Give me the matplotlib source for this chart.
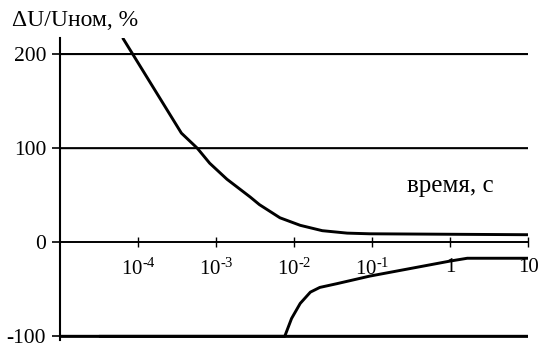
import matplotlib
matplotlib.use("Agg")
import matplotlib.pyplot as plt

plt.rcParams['font.family'] = ['Liberation Serif', 'DejaVu Serif']
plt.rcParams['mathtext.fontset'] = 'custom'
plt.rcParams['mathtext.rm'] = 'Liberation Serif'
plt.rcParams['mathtext.it'] = 'Liberation Serif'
plt.rcParams['axes.unicode_minus'] = False

# upper curve (overvoltage), % vs seconds
t_up = [6.5e-5, 8.7e-5, 3.6e-4, 5.75e-4, 8.3e-4, 1.38e-3, 2.75e-3, 3.6e-3, 6.6e-3,
        0.012, 0.023, 0.048, 0.093, 10]
du_up = [216, 199, 116, 100, 84, 67, 48, 40, 26, 18, 12.3, 9.7, 9, 8]

# lower curve (voltage dip)
t_low = [3.3e-5, 7.6e-3, 9.3e-3, 0.012, 0.0162, 0.0214, 0.0355, 0.0575, 0.093, 1.0, 1.66, 10]
du_low = [-100, -100, -81, -65, -53, -48, -44, -40, -36, -20, -17, -17]

hlines = [200, 100, -100]
xticks = [1e-4, 1e-3, 1e-2, 1e-1, 1, 10]
xticklabels = [r'$10^{\text{-}4}$', r'$10^{\text{-}3}$', r'$10^{\text{-}2}$', r'$10^{\text{-}1}$', '1', '10']
yticks = [-100, 0, 100, 200]

fig = plt.figure(figsize=(5.4, 3.46), dpi=100)
ax = fig.add_axes([0.111, 0.017, 0.867, 0.873])

for h in hlines:
    ax.plot([1e-5, 10], [h, h], color='black', lw=2.2 if h < 0 else 1.5,
            snap=False, zorder=3)
ax.plot(t_up, du_up, color='black', lw=2.1, zorder=4)
ax.plot(t_low, du_low, color='black', lw=2.1, zorder=4)

ax.set_xscale('log')
ax.set_xlim(1e-5, 10)
ax.set_ylim(-104, 217)

ax.spines['top'].set_visible(False)
ax.spines['right'].set_visible(False)
ax.spines['bottom'].set_position(('data', 0))
ax.spines['bottom'].set_linewidth(1.4)
ax.spines['left'].set_linewidth(1.5)

ax.set_xticks(xticks)
ax.set_xticklabels(xticklabels)
ax.xaxis.set_minor_locator(matplotlib.ticker.NullLocator())
ax.tick_params(axis='x', direction='inout', length=7, width=1, pad=8, labelsize=15)
ax.set_yticks(yticks)
ax.tick_params(axis='y', direction='out', length=6, width=1.2, pad=4, labelsize=15.5)

fig.text(0.022, 0.94, 'ΔU/Uном, %', fontsize=17, va='center', ha='left')
ax.text(0.833, 0.51, 'время, с', transform=ax.transAxes, fontsize=18, ha='center', va='center')

fig.savefig('out.png', dpi=100)
